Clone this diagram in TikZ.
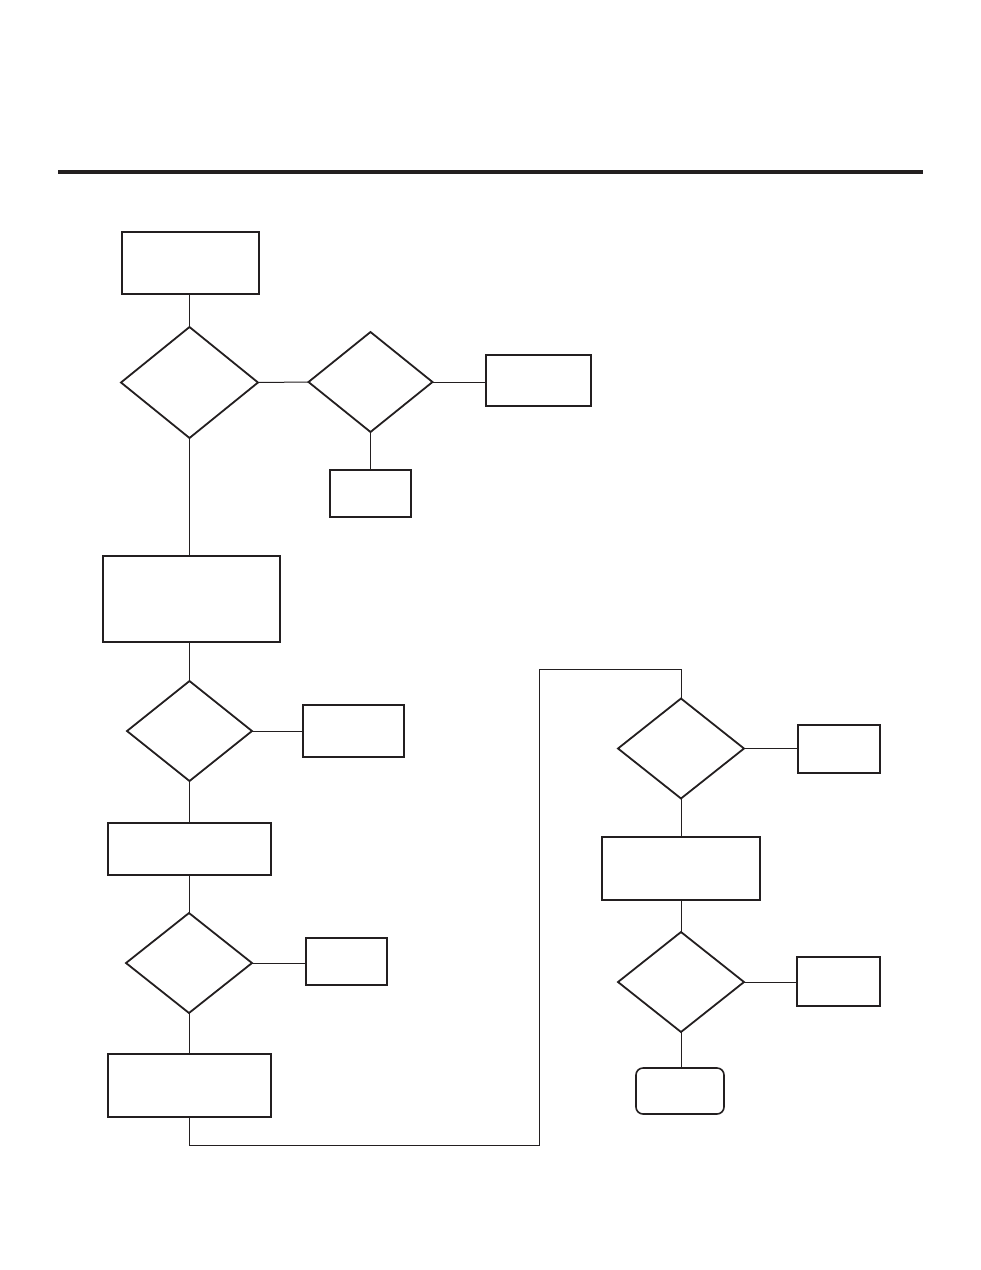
\documentclass[tikz,border=0pt]{standalone}
\usetikzlibrary{shapes.geometric}
\definecolor{ink}{HTML}{231F20}
\begin{document}
\begin{tikzpicture}[x=1pt,y=-1pt,
  box/.style={draw=ink,line width=2pt,rectangle,inner sep=0pt,outer sep=0pt},
  dec/.style={draw=ink,line width=1.8pt,diamond,inner sep=0pt,outer sep=0pt},
  term/.style={box,rounded corners=7pt,line width=1.6pt},
  link/.style={draw=ink,line width=1pt},
  rule/.style={draw=ink,line width=3.2pt}]
\useasboundingbox (0,0) rectangle (981,1270);
% top rule
\coordinate (r1) at (58,172);
\coordinate (r2) at (923,172);
\draw[rule] (r1) -- (r2);
% left column
\node[box,minimum width=137pt,minimum height=62pt] (box1) at (190.5,263) {};
\node[dec,minimum width=137pt,minimum height=111pt] (d1) at (189.5,382.5) {};
\node[dec,minimum width=124pt,minimum height=100pt] (d2) at (370.5,382) {};
\node[box,minimum width=105pt,minimum height=51pt] (br) at (538.5,380.5) {};
\node[box,minimum width=81pt,minimum height=47pt] (bb) at (370.5,493.5) {};
\node[box,minimum width=177pt,minimum height=86pt] (box2) at (191.5,599) {};
\node[dec,minimum width=125pt,minimum height=100pt] (d3) at (189.5,731) {};
\node[box,minimum width=101pt,minimum height=52pt] (b3) at (353.5,731) {};
\node[box,minimum width=163pt,minimum height=52pt] (box4) at (189.5,849) {};
\node[dec,minimum width=126pt,minimum height=100pt] (d4) at (189,963) {};
\node[box,minimum width=81pt,minimum height=47pt] (b5) at (346.5,961.5) {};
\node[box,minimum width=163pt,minimum height=63pt] (box6) at (189.5,1085.5) {};
% right column
\node[dec,minimum width=126pt,minimum height=100pt] (d5) at (681,748.5) {};
\node[box,minimum width=82pt,minimum height=48pt] (b7) at (839,749) {};
\node[box,minimum width=158pt,minimum height=63pt] (box8) at (681,868.5) {};
\node[dec,minimum width=126pt,minimum height=100pt] (d6) at (681,982) {};
\node[box,minimum width=83pt,minimum height=49pt] (b9) at (838.5,981.5) {};
\node[term,minimum width=88pt,minimum height=46pt] (t) at (680,1091) {};
% elbow points
\coordinate (c1) at (189.5,1145);
\coordinate (c2) at (539.5,1145);
\coordinate (c3) at (539.5,669);
\coordinate (c4) at (681,669);
% connectors
\draw[link] (d1.north |- box1.south) -- (d1.north);
\draw[link] (d1.south) -- (d1.south |- box2.north);
\draw[link] (d1.east) -- (d2.west);
\draw[link] (d2.east) -- (d2.east -| br.west);
\draw[link] (d2.south) -- (d2.south |- bb.north);
\draw[link] (box2.south -| d3.north) -- (d3.north);
\draw[link] (d3.east) -- (d3.east -| b3.west);
\draw[link] (d3.south) -- (d3.south |- box4.north);
\draw[link] (box4.south -| d4.north) -- (d4.north);
\draw[link] (d4.east) -- (d4.east -| b5.west);
\draw[link] (d4.south) -- (d4.south |- box6.north);
\draw[link] (box6.south -| c1) -- (c1) -- (c2) -- (c3) -- (c4) -- (d5.north);
\draw[link] (d5.east) -- (d5.east -| b7.west);
\draw[link] (d5.south) -- (d5.south |- box8.north);
\draw[link] (box8.south -| d6.north) -- (d6.north);
\draw[link] (d6.east) -- (d6.east -| b9.west);
\draw[link] (d6.south) -- (d6.south |- t.north);
\end{tikzpicture}
\end{document}
